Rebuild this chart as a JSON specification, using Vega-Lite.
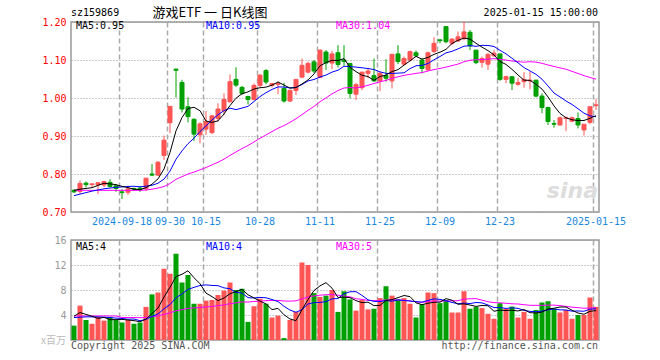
{
"$schema": "https://vega.github.io/schema/vega-lite/v6.json",
"background": "white",
"padding": {"left": 40, "top": 6, "right": 0, "bottom": 0},
"bounds": "flush",
"spacing": 28,
"config": {"view": {"stroke": "#999", "strokeWidth": 1.5}, "font": "DejaVu Sans Mono",
  "axis": {"labelOverlap": false, "labelFlush": false, "ticks": false, "domain": false}},
"datasets": {"k": [
{"d":"2024-09-04","o":0.757,"h":0.760,"l":0.750,"c":0.753,"v":2.3,"pm5":0.757,"pm10":0.743,"pm30":0.757,"vm5":3.8,"vm10":3.6,"vm30":3.85},
{"d":"2024-09-05","o":0.754,"h":0.783,"l":0.747,"c":0.775,"v":5.5,"pm5":0.760,"pm10":0.747,"pm30":0.757,"vm5":4.4,"vm10":3.65,"vm30":3.85},
{"d":"2024-09-06","o":0.776,"h":0.780,"l":0.765,"c":0.772,"v":3.2,"pm5":0.762,"pm10":0.751,"pm30":0.757,"vm5":4.1,"vm10":3.7,"vm30":3.85},
{"d":"2024-09-09","o":0.772,"h":0.776,"l":0.765,"c":0.774,"v":2.6,"pm5":0.764,"pm10":0.755,"pm30":0.757,"vm5":3.8,"vm10":3.7,"vm30":3.85},
{"d":"2024-09-10","o":0.771,"h":0.778,"l":0.747,"c":0.777,"v":3.7,"pm5":0.770,"pm10":0.758,"pm30":0.757,"vm5":3.46,"vm10":3.7,"vm30":3.85},
{"d":"2024-09-11","o":0.771,"h":0.782,"l":0.765,"c":0.780,"v":3.1,"pm10":0.761,"pm30":0.757,"vm10":3.65,"vm30":3.85},
{"d":"2024-09-12","o":0.778,"h":0.786,"l":0.765,"c":0.767,"v":3.7,"pm10":0.763,"pm30":0.757,"vm10":3.6,"vm30":3.85},
{"d":"2024-09-13","o":0.769,"h":0.772,"l":0.753,"c":0.762,"v":3.2,"pm10":0.765,"pm30":0.757,"vm10":3.5,"vm30":3.85},
{"d":"2024-09-18","o":0.753,"h":0.760,"l":0.734,"c":0.751,"v":2.8,"pm10":0.766,"pm30":0.757,"vm10":3.45,"vm30":3.6},
{"d":"2024-09-19","o":0.752,"h":0.769,"l":0.745,"c":0.761,"v":3.2,"pm10":0.767,"pm30":0.757,"vm10":3.33,"vm30":3.6},
{"d":"2024-09-20","o":0.762,"h":0.764,"l":0.755,"c":0.759,"v":2.6,"pm30":0.757,"vm30":3.6},
{"d":"2024-09-23","o":0.763,"h":0.767,"l":0.753,"c":0.760,"v":2.8,"pm30":0.757,"vm30":3.56},
{"d":"2024-09-24","o":0.762,"h":0.790,"l":0.755,"c":0.789,"v":5.3,"pm30":0.758,"vm30":3.61},
{"d":"2024-09-25","o":0.800,"h":0.826,"l":0.795,"c":0.797,"v":7.3,"pm30":0.760,"vm30":3.73},
{"d":"2024-09-26","o":0.797,"h":0.834,"l":0.795,"c":0.831,"v":7.6,"pm30":0.763,"vm30":3.86},
{"d":"2024-09-27","o":0.849,"h":0.901,"l":0.837,"c":0.889,"v":11.4,"pm30":0.767,"vm30":4.11},
{"d":"2024-09-30","o":0.935,"h":0.978,"l":0.907,"c":0.978,"v":10.6,"pm30":0.775,"vm30":4.34},
{"d":"2024-10-08","o":1.076,"h":1.077,"l":1.001,"c":1.073,"v":13.8,"pm30":0.786,"vm30":4.67},
{"d":"2024-10-09","o":1.041,"h":1.048,"l":0.962,"c":0.971,"v":9.2,"pm30":0.793,"vm30":4.85},
{"d":"2024-10-10","o":0.977,"h":1.002,"l":0.936,"c":0.951,"v":10.4,"pm30":0.800,"vm30":5.07},
{"d":"2024-10-11","o":0.944,"h":0.946,"l":0.887,"c":0.905,"v":5.8,"pm30":0.805,"vm30":5.14},
{"d":"2024-10-14","o":0.903,"h":0.936,"l":0.881,"c":0.932,"v":5.8,"pm30":0.811,"vm30":5.21},
{"d":"2024-10-15","o":0.918,"h":0.966,"l":0.903,"c":0.938,"v":6.3,"pm30":0.817,"vm30":5.29},
{"d":"2024-10-16","o":0.909,"h":0.955,"l":0.905,"c":0.953,"v":6.4,"pm30":0.824,"vm30":5.38},
{"d":"2024-10-17","o":0.946,"h":0.986,"l":0.938,"c":0.971,"v":7.2,"pm30":0.831,"vm30":5.49},
{"d":"2024-10-18","o":0.966,"h":1.012,"l":0.955,"c":0.996,"v":7.9,"pm30":0.839,"vm30":5.63},
{"d":"2024-10-21","o":0.990,"h":1.062,"l":0.988,"c":1.043,"v":9.2,"pm30":0.849,"vm30":5.81},
{"d":"2024-10-22","o":1.049,"h":1.081,"l":1.029,"c":1.034,"v":8.0,"pm30":0.858,"vm30":5.95},
{"d":"2024-10-23","o":1.028,"h":1.032,"l":1.008,"c":1.012,"v":8.2,"pm30":0.867,"vm30":6.10},
{"d":"2024-10-24","o":1.004,"h":1.006,"l":0.983,"c":0.996,"v":2.9,"pm30":0.875,"vm30":6.07},
{"d":"2024-10-25","o":0.996,"h":1.038,"l":0.994,"c":1.033,"v":5.4},
{"d":"2024-10-28","o":1.033,"h":1.063,"l":1.028,"c":1.060,"v":6.6},
{"d":"2024-10-29","o":1.072,"h":1.076,"l":1.036,"c":1.042,"v":5.8},
{"d":"2024-10-30","o":1.033,"h":1.040,"l":1.028,"c":1.038,"v":3.6},
{"d":"2024-10-31","o":1.036,"h":1.043,"l":1.010,"c":1.038,"v":3.9},
{"d":"2024-11-01","o":1.025,"h":1.040,"l":0.988,"c":0.992,"v":0.3},
{"d":"2024-11-04","o":0.992,"h":1.022,"l":0.990,"c":1.020,"v":3.2},
{"d":"2024-11-05","o":1.020,"h":1.049,"l":1.008,"c":1.049,"v":4.5},
{"d":"2024-11-06","o":1.055,"h":1.104,"l":1.052,"c":1.086,"v":12.4},
{"d":"2024-11-07","o":1.068,"h":1.096,"l":1.065,"c":1.091,"v":12.0},
{"d":"2024-11-08","o":1.095,"h":1.100,"l":1.066,"c":1.071,"v":7.5},
{"d":"2024-11-11","o":1.054,"h":1.128,"l":1.052,"c":1.126,"v":6.9},
{"d":"2024-11-12","o":1.121,"h":1.126,"l":1.074,"c":1.092,"v":7.1},
{"d":"2024-11-13","o":1.092,"h":1.124,"l":1.076,"c":1.116,"v":8.0},
{"d":"2024-11-14","o":1.119,"h":1.139,"l":1.080,"c":1.088,"v":4.5},
{"d":"2024-11-15","o":1.100,"h":1.139,"l":1.085,"c":1.096,"v":7.8},
{"d":"2024-11-18","o":1.091,"h":1.091,"l":0.999,"c":1.012,"v":6.5},
{"d":"2024-11-19","o":1.010,"h":1.040,"l":0.995,"c":1.035,"v":4.7},
{"d":"2024-11-20","o":1.027,"h":1.069,"l":1.021,"c":1.068,"v":6.4},
{"d":"2024-11-21","o":1.065,"h":1.078,"l":1.052,"c":1.071,"v":4.9},
{"d":"2024-11-22","o":1.059,"h":1.104,"l":1.043,"c":1.045,"v":5.0},
{"d":"2024-11-25","o":1.045,"h":1.069,"l":1.018,"c":1.065,"v":6.7},
{"d":"2024-11-26","o":1.059,"h":1.102,"l":1.043,"c":1.052,"v":8.6},
{"d":"2024-11-27","o":1.045,"h":1.115,"l":1.025,"c":1.115,"v":7.1},
{"d":"2024-11-28","o":1.116,"h":1.139,"l":1.089,"c":1.096,"v":6.5},
{"d":"2024-11-29","o":1.089,"h":1.109,"l":1.087,"c":1.104,"v":6.7},
{"d":"2024-12-02","o":1.100,"h":1.125,"l":1.096,"c":1.122,"v":5.8},
{"d":"2024-12-03","o":1.119,"h":1.125,"l":1.109,"c":1.111,"v":3.6},
{"d":"2024-12-04","o":1.100,"h":1.104,"l":1.065,"c":1.078,"v":5.7},
{"d":"2024-12-05","o":1.074,"h":1.122,"l":1.071,"c":1.119,"v":7.6},
{"d":"2024-12-06","o":1.122,"h":1.160,"l":1.119,"c":1.144,"v":7.5},
{"d":"2024-12-09","o":1.153,"h":1.154,"l":1.144,"c":1.151,"v":5.9},
{"d":"2024-12-10","o":1.188,"h":1.188,"l":1.144,"c":1.148,"v":6.4},
{"d":"2024-12-11","o":1.144,"h":1.157,"l":1.139,"c":1.155,"v":4.4},
{"d":"2024-12-12","o":1.150,"h":1.175,"l":1.148,"c":1.161,"v":4.4},
{"d":"2024-12-13","o":1.156,"h":1.200,"l":1.152,"c":1.174,"v":7.8},
{"d":"2024-12-16","o":1.173,"h":1.179,"l":1.126,"c":1.137,"v":5.0},
{"d":"2024-12-17","o":1.126,"h":1.126,"l":1.089,"c":1.093,"v":5.3},
{"d":"2024-12-18","o":1.094,"h":1.109,"l":1.080,"c":1.104,"v":5.1},
{"d":"2024-12-19","o":1.089,"h":1.118,"l":1.074,"c":1.115,"v":4.2},
{"d":"2024-12-20","o":1.111,"h":1.126,"l":1.109,"c":1.118,"v":3.4},
{"d":"2024-12-23","o":1.116,"h":1.116,"l":1.045,"c":1.049,"v":5.9},
{"d":"2024-12-24","o":1.049,"h":1.059,"l":1.039,"c":1.056,"v":5.0},
{"d":"2024-12-25","o":1.056,"h":1.056,"l":1.021,"c":1.039,"v":5.35},
{"d":"2024-12-26","o":1.036,"h":1.053,"l":1.032,"c":1.041,"v":3.6},
{"d":"2024-12-27","o":1.043,"h":1.068,"l":1.027,"c":1.049,"v":4.5},
{"d":"2024-12-30","o":1.045,"h":1.069,"l":1.023,"c":1.047,"v":3.4},
{"d":"2024-12-31","o":1.047,"h":1.047,"l":1.002,"c":1.005,"v":4.8},
{"d":"2025-01-02","o":1.005,"h":1.012,"l":0.960,"c":0.975,"v":6.0},
{"d":"2025-01-03","o":0.975,"h":0.977,"l":0.929,"c":0.938,"v":6.2},
{"d":"2025-01-06","o":0.933,"h":0.942,"l":0.922,"c":0.931,"v":5.0},
{"d":"2025-01-07","o":0.929,"h":0.951,"l":0.927,"c":0.948,"v":4.4},
{"d":"2025-01-08","o":0.946,"h":0.951,"l":0.913,"c":0.948,"v":4.8},
{"d":"2025-01-09","o":0.939,"h":0.951,"l":0.936,"c":0.948,"v":3.4},
{"d":"2025-01-10","o":0.946,"h":0.962,"l":0.920,"c":0.929,"v":4.0},
{"d":"2025-01-13","o":0.916,"h":0.931,"l":0.901,"c":0.931,"v":4.0},
{"d":"2025-01-14","o":0.936,"h":0.977,"l":0.931,"c":0.977,"v":6.8},
{"d":"2025-01-15","o":0.980,"h":0.997,"l":0.968,"c":0.982,"v":5.3}
]},
"data": {"name": "k"},
"vconcat": [
{
"width": 528, "height": 190,
"encoding": {"x": {"field": "d", "type": "ordinal", "title": null,
  "scale": {"type": "band", "paddingInner": 0, "paddingOuter": 0},
  "axis": {"values": ["2024-09-18","2024-09-30","2024-10-15","2024-10-28","2024-11-11","2024-11-25","2024-12-09","2024-12-23","2025-01-15"],
    "labelExpr": "(datum.value == '2024-09-18' || datum.value == '2025-01-15') ? datum.value : slice(datum.value, 5)",
    "bandPosition": 0, "grid": true, "gridDash": [5, 3], "gridColor": "#aaa", "gridWidth": 1.5,
    "ticks": false, "domain": false, "labelAngle": 0, "labelOverlap": false,
    "labelColor": "#1a88e0", "labelFont": "DejaVu Sans Mono", "labelFontSize": 10, "labelPadding": 4}}},
"layer": [
{"mark": {"type": "rule", "strokeWidth": 1},
 "encoding": {
  "y": {"field": "l", "type": "quantitative", "title": null,
    "scale": {"domain": [0.7, 1.2], "nice": false, "zero": false},
    "axis": {"values": [0.7, 0.8, 0.9, 1.0, 1.1, 1.2], "tickCount": 12, "format": ".2f", "grid": true, "gridDash": [1, 2], "gridColor": "#999",
      "ticks": false, "domain": false, "labelOverlap": false, "labelFlush": false, "labelColor": "#f00", "labelFont": "DejaVu Sans Mono", "labelFontSize": 10, "labelPadding": 5}},
  "y2": {"field": "h"},
  "color": {"condition": {"test": "datum.c >= datum.o", "value": "#f55"}, "value": "#00a000"}}},
{"mark": {"type": "bar", "width": {"band": 0.67}, "strokeWidth": 1},
 "encoding": {
  "y": {"field": "o", "type": "quantitative", "title": null},
  "y2": {"field": "c"},
  "color": {"condition": {"test": "datum.c >= datum.o", "value": "#f55"}, "value": "#00a000"},
  "stroke": {"condition": {"test": "datum.c >= datum.o", "value": "#f55"}, "value": "#00a000"}}},
{"mark": {"type": "line", "color": "#f0f", "strokeWidth": 1},
 "encoding": {"y": {"field": "pm30", "type": "quantitative", "title": null}}},
{"transform": [{"window": [{"op": "mean", "field": "c", "as": "m30"}], "frame": [-29, 0], "sort": [{"field": "d"}]}, {"filter": "datum.d >= '2024-10-24'"}],
 "mark": {"type": "line", "color": "#f0f", "strokeWidth": 1},
 "encoding": {"y": {"field": "m30", "type": "quantitative", "title": null}}},
{"mark": {"type": "line", "color": "#00f", "strokeWidth": 1},
 "encoding": {"y": {"field": "pm10", "type": "quantitative", "title": null}}},
{"transform": [{"window": [{"op": "mean", "field": "c", "as": "m10"}], "frame": [-9, 0], "sort": [{"field": "d"}]}, {"filter": "datum.d >= '2024-09-19'"}],
 "mark": {"type": "line", "color": "#00f", "strokeWidth": 1},
 "encoding": {"y": {"field": "m10", "type": "quantitative", "title": null}}},
{"mark": {"type": "line", "color": "#000", "strokeWidth": 1},
 "encoding": {"y": {"field": "pm5", "type": "quantitative", "title": null}}},
{"transform": [{"window": [{"op": "mean", "field": "c", "as": "m5"}], "frame": [-4, 0], "sort": [{"field": "d"}]}, {"filter": "datum.d >= '2024-09-10'"}],
 "mark": {"type": "line", "color": "#000", "strokeWidth": 1},
 "encoding": {"y": {"field": "m5", "type": "quantitative", "title": null}}},
{"data": {"values": [{}]},
 "mark": {"type": "text", "text": "sina", "align": "right", "baseline": "middle", "dx": 2, "fontSize": 22, "fontWeight": "bold", "fontStyle": "italic", "font": "DejaVu Sans", "color": "#dddddd"},
 "encoding": {"x": {"datum": "2025-01-15"}, "y": {"datum": 0.755}}},
{"data": {"values": [{}]},
 "mark": {"type": "text", "text": "sz159869", "align": "left", "baseline": "middle", "dx": -3, "fontSize": 10, "color": "#000"},
 "encoding": {"x": {"datum": "2024-09-04"}, "y": {"datum": 1.2237}}},
{"data": {"values": [{}]},
 "mark": {"type": "text", "text": "游戏ETF 一 日K线图", "align": "center", "baseline": "middle", "dx": -2, "fontSize": 13, "font": "Noto Sans CJK SC", "color": "#000"},
 "encoding": {"x": {"datum": "2024-10-16"}, "y": {"datum": 1.2237}}},
{"data": {"values": [{}]},
 "mark": {"type": "text", "text": "2025-01-15 15:00:00", "align": "right", "baseline": "middle", "dx": 2, "fontSize": 10, "color": "#000"},
 "encoding": {"x": {"datum": "2025-01-15"}, "y": {"datum": 1.2237}}},
{"data": {"values": [{}]},
 "mark": {"type": "text", "text": "MA5:0.95", "align": "left", "baseline": "middle", "dx": 2, "fontSize": 10, "color": "#000"},
 "encoding": {"x": {"datum": "2024-09-04"}, "y": {"datum": 1.189}}},
{"data": {"values": [{}]},
 "mark": {"type": "text", "text": "MA10:0.95", "align": "left", "baseline": "middle", "dx": 0, "fontSize": 10, "color": "#00f"},
 "encoding": {"x": {"datum": "2024-10-15"}, "y": {"datum": 1.189}}},
{"data": {"values": [{}]},
 "mark": {"type": "text", "text": "MA30:1.04", "align": "left", "baseline": "middle", "dx": -2, "fontSize": 10, "color": "#f0f"},
 "encoding": {"x": {"datum": "2024-11-14"}, "y": {"datum": 1.189}}}
]
},
{
"width": 528, "height": 100,
"encoding": {"x": {"field": "d", "type": "ordinal", "title": null,
  "scale": {"type": "band", "paddingInner": 0, "paddingOuter": 0},
  "axis": {"values": ["2024-09-18","2024-09-30","2024-10-15","2024-10-28","2024-11-11","2024-11-25","2024-12-09","2024-12-23","2025-01-15"],
    "bandPosition": 0, "grid": true, "gridDash": [5, 3], "gridColor": "#aaa", "gridWidth": 1.5,
    "ticks": false, "domain": false, "labels": false}}},
"layer": [
{"mark": {"type": "bar", "width": {"band": 0.84}},
 "encoding": {
  "y": {"field": "v", "type": "quantitative", "title": null,
    "scale": {"domain": [0, 16], "nice": false},
    "axis": {"values": [4, 8, 12, 16], "tickCount": 12, "grid": true, "gridDash": [1, 2], "gridColor": "#999",
      "ticks": false, "domain": false, "labelOverlap": false, "labelFlush": false, "labelColor": "#999", "labelFont": "DejaVu Sans Mono", "labelFontSize": 10, "labelPadding": 5}},
  "color": {"condition": {"test": "datum.c >= datum.o", "value": "#f55"}, "value": "#00a000"}}},
{"mark": {"type": "line", "color": "#f0f", "strokeWidth": 1},
 "encoding": {"y": {"field": "vm30", "type": "quantitative", "title": null}}},
{"transform": [{"window": [{"op": "mean", "field": "v", "as": "w30"}], "frame": [-29, 0], "sort": [{"field": "d"}]}, {"filter": "datum.d >= '2024-10-24'"}],
 "mark": {"type": "line", "color": "#f0f", "strokeWidth": 1},
 "encoding": {"y": {"field": "w30", "type": "quantitative", "title": null}}},
{"mark": {"type": "line", "color": "#00f", "strokeWidth": 1},
 "encoding": {"y": {"field": "vm10", "type": "quantitative", "title": null}}},
{"transform": [{"window": [{"op": "mean", "field": "v", "as": "w10"}], "frame": [-9, 0], "sort": [{"field": "d"}]}, {"filter": "datum.d >= '2024-09-19'"}],
 "mark": {"type": "line", "color": "#00f", "strokeWidth": 1},
 "encoding": {"y": {"field": "w10", "type": "quantitative", "title": null}}},
{"mark": {"type": "line", "color": "#000", "strokeWidth": 1},
 "encoding": {"y": {"field": "vm5", "type": "quantitative", "title": null}}},
{"transform": [{"window": [{"op": "mean", "field": "v", "as": "w5"}], "frame": [-4, 0], "sort": [{"field": "d"}]}, {"filter": "datum.d >= '2024-09-10'"}],
 "mark": {"type": "line", "color": "#000", "strokeWidth": 1},
 "encoding": {"y": {"field": "w5", "type": "quantitative", "title": null}}},
{"data": {"values": [{}]},
 "mark": {"type": "text", "text": "MA5:4", "align": "left", "baseline": "middle", "dx": 2, "fontSize": 10, "color": "#000"},
 "encoding": {"x": {"datum": "2024-09-04"}, "y": {"datum": 14.9}}},
{"data": {"values": [{}]},
 "mark": {"type": "text", "text": "MA10:4", "align": "left", "baseline": "middle", "dx": 0, "fontSize": 10, "color": "#00f"},
 "encoding": {"x": {"datum": "2024-10-15"}, "y": {"datum": 14.9}}},
{"data": {"values": [{}]},
 "mark": {"type": "text", "text": "MA30:5", "align": "left", "baseline": "middle", "dx": -2, "fontSize": 10, "color": "#f0f"},
 "encoding": {"x": {"datum": "2024-11-14"}, "y": {"datum": 14.9}}},
{"data": {"values": [{}]},
 "mark": {"type": "text", "text": "x百万", "align": "right", "baseline": "middle", "dx": -8, "fontSize": 10, "font": "Noto Sans CJK SC", "color": "#bbb"},
 "encoding": {"x": {"datum": "2024-09-04"}, "y": {"datum": -0.15}}},
{"data": {"values": [{}]},
 "mark": {"type": "text", "text": "Copyright 2025 SINA.COM", "align": "left", "baseline": "middle", "dx": -3, "fontSize": 10, "color": "#555"},
 "encoding": {"x": {"datum": "2024-09-04"}, "y": {"datum": -0.9}}},
{"data": {"values": [{}]},
 "mark": {"type": "text", "text": "http://finance.sina.com.cn", "align": "right", "baseline": "middle", "dx": 2, "fontSize": 10, "color": "#555"},
 "encoding": {"x": {"datum": "2025-01-15"}, "y": {"datum": -0.9}}}
]
}
]
}
